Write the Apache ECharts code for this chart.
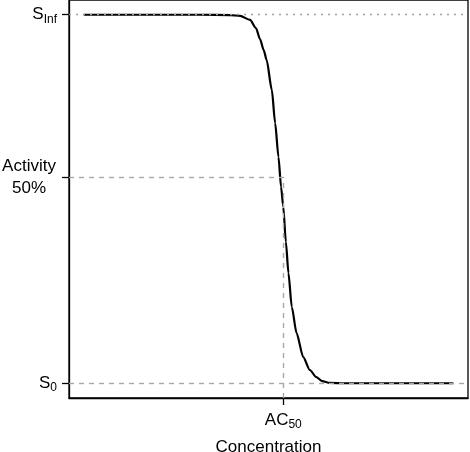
<!DOCTYPE html>
<html>
<head>
<meta charset="utf-8">
<script src="https://cdn.jsdelivr.net/npm/echarts@6/dist/echarts.min.js"></script>
<style>
  html, body { margin: 0; padding: 0; background: #fff; }
  #chart { width: 470px; height: 452px; }
</style>
</head>
<body>
<div id="chart"></div>
<script>
// dose-response curve (log concentration, activity)
const concentration = [0, 3.15, 3.96, 4.23, 4.5, 4.66, 4.77, 4.87, 4.95, 5.09, 5.18, 5.27, 5.34, 5.4, 5.47, 5.54, 5.63, 5.76, 5.94, 6.12, 6.29, 6.45, 6.66, 7.07, 10];
const activity = [100, 100, 99.9, 99.7, 98.6, 96.4, 93.4, 90.4, 87.7, 79.6, 70.6, 61.4, 53.3, 47.9, 38.4, 29.9, 20.7, 13.6, 7.1, 3.6, 1.7, 0.6, 0.1, 0, 0];

const sZero = 0;
const sInf = 100;
const halfLevel = 56;
const ac50 = 5.4;

const yTickValues = [sZero, halfLevel, sInf];
const yTickLabels = ["{m|S}{s|0}", "{c|Activity}\n{c|50%}", "{m|S}{s|Inf}"];
const xTickValues = [ac50];
const xTickLabels = ["{m|AC}{s|50}"];

const xMin = -0.4, xMax = 10.4;
const yMin = -4, yMax = 104;

const font = "'Liberation Sans', Arial, sans-serif";
const rich = {
  m: { fontSize: 17, fontFamily: font, color: "#000" },
  s: { fontSize: 12, fontFamily: font, color: "#000", padding: [9, 0, 0, 0] },
  c: { fontSize: 17, fontFamily: font, color: "#000", lineHeight: 22, width: 56, align: "center" },
};

function pick(values, labels, v) {
  let best = 0;
  values.forEach((t, i) => { if (Math.abs(t - v) < Math.abs(values[best] - v)) best = i; });
  return labels[best];
}

const chart = echarts.init(document.getElementById("chart"));
const axisStroke = { color: "#000", width: 1.3 };
const dashed = { color: "#a8a8a8", width: 1.4, type: [5, 5] };
const dotted = { color: "#a0a0a0", width: 1.4, type: [2, 5] };

chart.setOption({
  animation: false,
  grid: {
    left: 69, top: 0, right: 2, bottom: 54, outerBoundsMode: "none", containLabel: false,
    show: true, borderColor: "#000", borderWidth: 1.3,
  },
  xAxis: {
    type: "value", min: xMin, max: xMax,
    name: "Concentration", nameLocation: "middle", nameGap: 41,
    nameTextStyle: { fontSize: 17, fontFamily: font, color: "#000" },
    axisLine: { show: true, onZero: false, lineStyle: axisStroke },
    splitLine: { show: false },
    axisTick: { show: true, customValues: xTickValues, length: 7, lineStyle: axisStroke },
    axisLabel: { customValues: xTickValues, margin: 12, rich, formatter: (v) => pick(xTickValues, xTickLabels, v) },
  },
  yAxis: {
    type: "value", min: yMin, max: yMax,
    axisLine: { show: true, onZero: false, lineStyle: axisStroke },
    splitLine: { show: false },
    axisTick: { show: true, customValues: yTickValues, length: 7, lineStyle: axisStroke },
    axisLabel: { customValues: yTickValues, margin: 12, rich, formatter: (v) => pick(yTickValues, yTickLabels, v) },
  },
  series: [
    {
      type: "line", data: [], z: 1, silent: true,
      markLine: {
        symbol: "none", silent: true, label: { show: false }, animation: false,
        data: [
          { yAxis: sInf, lineStyle: dotted },
          { yAxis: sZero, lineStyle: dashed },
          [{ coord: [xMin, halfLevel], lineStyle: dashed }, { coord: [ac50, halfLevel] }],
          [{ coord: [ac50, yMin], lineStyle: dashed }, { coord: [ac50, halfLevel] }],
        ],
      },
    },
    {
      type: "line", z: 3,
      data: concentration.map((c, i) => [c, activity[i]]),
      showSymbol: false, smooth: 0.25, smoothMonotone: "x",
      lineStyle: { color: "#000", width: 2.2 },
    },
  ],
});
</script>
</body>
</html>
